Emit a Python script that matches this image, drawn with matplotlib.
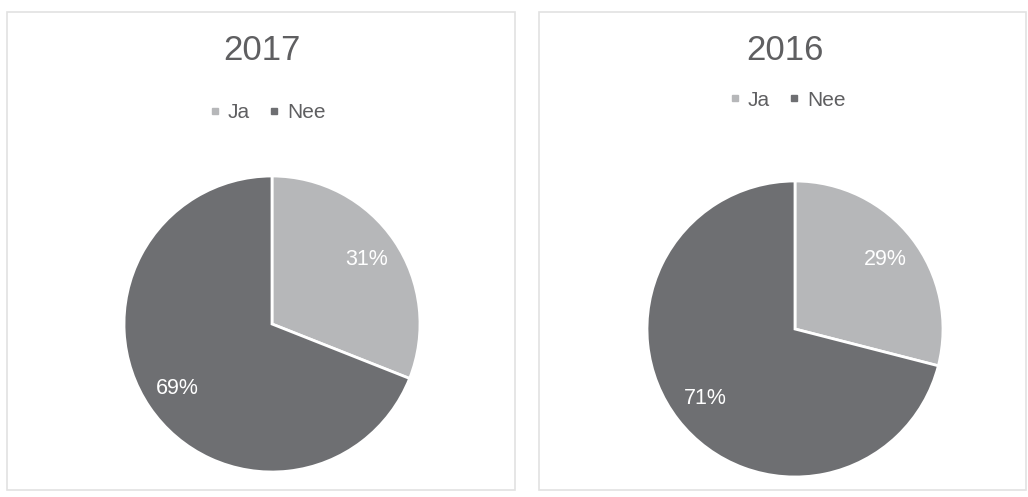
import matplotlib.pyplot as plt
from matplotlib.patches import Rectangle
from matplotlib.lines import Line2D

plt.rcParams['font.family'] = ['Liberation Sans', 'DejaVu Sans']

years = ["2017", "2016"]
categories = ["Ja", "Nee"]
shares_2017 = [31, 69]
shares_2016 = [29, 71]
colors = ["#b6b7b9", "#6e6f72"]
text_gray = "#5f5f61"

W, H = 1028, 497
fig = plt.figure(figsize=(W / 100, H / 100), dpi=100)
fig.patch.set_facecolor("white")

# panel layout in pixels (top-down)
boxes = [(7, 12, 515, 490), (539, 12, 1026, 490)]
centers = [(272, 324), (795, 329)]
title_pos = [(262, 51), (785, 51)]
legend_pos = [(267, 113), (787, 100)]
radius = 148

for i, (year, shares) in enumerate(zip(years, [shares_2017, shares_2016])):
    x0, y0, x1, y1 = boxes[i]
    cx, cy = centers[i]
    fig.patches.append(Rectangle((x0 / W, 1 - y1 / H), (x1 - x0) / W, (y1 - y0) / H,
                                 transform=fig.transFigure, fill=False,
                                 edgecolor="#e2e2e2", linewidth=1.2))

    ax = fig.add_axes([(cx - radius) / W, (H - cy - radius) / H, 2 * radius / W, 2 * radius / H])
    ax.pie(shares, colors=colors, startangle=90, counterclock=False,
           autopct=lambda p: f"{p:.0f}%", pctdistance=0.77,
           wedgeprops=dict(edgecolor="white", linewidth=2),
           textprops=dict(color="white", fontsize=15.5))
    ax.set_xlim(-1, 1)
    ax.set_ylim(-1, 1)
    ax.set_aspect("auto")
    ax.axis("off")

    tx, ty = title_pos[i]
    fig.text(tx / W, 1 - ty / H, year, ha="center", va="center", fontsize=25, color=text_gray)

    handles = [Line2D([], [], marker="s", linestyle="none", markersize=5,
                      markerfacecolor=c, markeredgecolor=c) for c in colors]
    lx, ly = legend_pos[i]
    fig.legend(handles, categories, loc="center", bbox_to_anchor=(lx / W, 1 - ly / H),
               ncol=2, frameon=False, fontsize=15, handlelength=0.6, handletextpad=0.3,
               columnspacing=0.9, labelcolor=text_gray)

fig.savefig("out.png", dpi=100)
